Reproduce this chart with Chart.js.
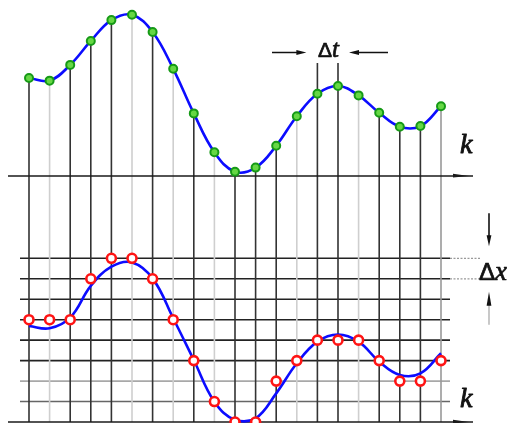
<!DOCTYPE html>
<html>
<head>
<meta charset="utf-8">
<script src="https://cdn.jsdelivr.net/npm/chart.js@4/dist/chart.umd.min.js"></script>
<style>
  html, body { margin: 0; padding: 0; background: #fff; overflow: hidden; }
  canvas { display: block; }
</style>
</head>
<body>
<canvas id="c" width="507" height="423"></canvas>
<script>
// Sample instants k = 0..20
const sampleIndex = [0, 1, 2, 3, 4, 5, 6, 7, 8, 9, 10, 11, 12, 13, 14, 15, 16, 17, 18, 19, 20];
// Sampled signal x(kΔt), in units of the quantisation step Δx
const sampled = [4.79, 4.66, 5.43, 6.60, 7.62, 7.88, 7.04, 5.24, 3.06, 1.16, 0.21, 0.41, 1.48, 2.92, 4.02, 4.40, 3.94, 3.09, 2.41, 2.44, 3.41];
// Continuous signal shown behind the quantised samples
const analog = [4.69, 4.58, 5.10, 6.65, 7.59, 7.80, 7.02, 5.07, 3.03, 0.99, 0.10, 0.18, 1.40, 2.87, 3.93, 4.28, 3.93, 2.95, 2.30, 2.38, 3.36];
// Quantised levels
const quantized = [5, 5, 5, 7, 8, 8, 7, 5, 3, 1, 0, 0, 2, 3, 4, 4, 4, 3, 2, 2, 3];
// Quantisation levels drawn as horizontal lines
const levelLines = [1, 2, 3, 4, 5, 6, 7, 8];

const toPoints = vals => sampleIndex.map((k, i) => ({ x: k, y: vals[i] }));

function arrow(ctx, x1, y1, x2, y2, len, half) {
  const a = Math.atan2(y2 - y1, x2 - x1);
  ctx.beginPath();
  ctx.moveTo(x1, y1);
  ctx.lineTo(x2 - Math.cos(a) * len * 0.6, y2 - Math.sin(a) * len * 0.6);
  ctx.stroke();
  ctx.beginPath();
  ctx.moveTo(x2, y2);
  ctx.lineTo(x2 - Math.cos(a) * len - Math.sin(a) * half, y2 - Math.sin(a) * len + Math.cos(a) * half);
  ctx.lineTo(x2 - Math.cos(a) * len + Math.sin(a) * half, y2 - Math.sin(a) * len - Math.cos(a) * half);
  ctx.closePath();
  ctx.fill();
}

// draws a filled glyph with a thin outline to give it a heavier weight
function heavyText(ctx, str, x, y, w) {
  ctx.lineWidth = w;
  ctx.lineJoin = 'round';
  ctx.strokeText(str, x, y);
  ctx.fillText(str, x, y);
  return ctx.measureText(str).width;
}

const lightStems = new Set([1, 5, 7, 9, 13, 16]);

const sketch = {
  id: 'sketch',
  beforeDatasetsDraw(chart) {
    const { ctx, scales: { x, yTop, yBot } } = chart;
    const px = k => x.getPixelForValue(k);
    const x0 = px(sampleIndex[0]);
    const xN = px(sampleIndex[sampleIndex.length - 1]);
    const base = yBot.getPixelForValue(0);
    const topBase = yTop.getPixelForValue(0);
    ctx.save();

    // quantisation level lines
    levelLines.forEach(l => {
      const y = yBot.getPixelForValue(l);
      ctx.strokeStyle = l === 2 ? '#a8a8a8' : (l === 1 ? '#666' : '#222');
      ctx.lineWidth = 1.6;
      ctx.beginPath();
      ctx.moveTo(x0 - 9, y);
      ctx.lineTo(xN + 9, y);
      ctx.stroke();
    });

    // dotted guides for Δx
    ctx.strokeStyle = '#999';
    ctx.lineWidth = 1.2;
    ctx.setLineDash([2, 1.5]);
    [8, 7].forEach(l => {
      const y = yBot.getPixelForValue(l);
      ctx.beginPath();
      ctx.moveTo(xN + 9, y);
      ctx.lineTo(xN + 39, y);
      ctx.stroke();
    });
    ctx.setLineDash([]);

    // stems from each sample down through the quantised plot
    sampleIndex.forEach((k, i) => {
      const xp = px(k);
      let y1 = yTop.getPixelForValue(sampled[i]);
      if (k === 14 || k === 15) y1 = 63;
      ctx.strokeStyle = k === 20 ? '#999' : (lightStems.has(k) ? '#cfcfcf' : '#333');
      ctx.lineWidth = 1.6;
      ctx.beginPath();
      ctx.moveTo(xp, y1);
      ctx.lineTo(xp, base);
      ctx.stroke();
    });

    // time axes with arrows
    ctx.strokeStyle = '#1a1a1a';
    ctx.fillStyle = '#1a1a1a';
    ctx.lineWidth = 1.6;
    [topBase, base].forEach(y => {
      ctx.beginPath();
      ctx.moveTo(x0 - 21, y);
      ctx.lineTo(xN + 32, y);
      ctx.stroke();
      ctx.beginPath();
      ctx.moveTo(xN + 28, y);
      ctx.lineTo(xN + 12, y - 2.2);
      ctx.lineTo(xN + 12, y + 1.5);
      ctx.closePath();
      ctx.fill();
    });
    ctx.restore();
  },
  afterDraw(chart) {
    const { ctx, scales: { x, yBot } } = chart;
    const px = k => x.getPixelForValue(k);
    ctx.save();
    ctx.fillStyle = '#111';
    ctx.strokeStyle = '#111';
    ctx.textBaseline = 'alphabetic';

    // k labels
    ctx.font = 'italic 28px "Liberation Serif", "DejaVu Serif", serif';
    heavyText(ctx, 'k', 460, 153, 0.9);
    heavyText(ctx, 'k', 460, 407, 0.9);

    // Δt marker
    const ay = 52.5;
    ctx.lineWidth = 1.5;
    arrow(ctx, 272, ay, px(14) - 11, ay, 10, 2.6);
    arrow(ctx, 388, ay, 349, ay, 10, 2.6);
    ctx.font = '21px "Liberation Sans", "DejaVu Sans", sans-serif';
    const dw = heavyText(ctx, 'Δ', 318, 56.5, 0.7);
    ctx.font = 'italic 25px "Liberation Serif", "DejaVu Serif", serif';
    heavyText(ctx, 't', 318 + dw, 56.5, 0.7);

    // Δx marker
    const ax = 489;
    const y8 = yBot.getPixelForValue(8);
    const y7 = yBot.getPixelForValue(7);
    ctx.lineWidth = 1.6;
    arrow(ctx, ax, y8 - 45, ax, y8 - 12, 11, 2.4);
    ctx.strokeStyle = '#bbb';
    ctx.beginPath();
    ctx.moveTo(ax, y7 + 46);
    ctx.lineTo(ax, y7 + 22);
    ctx.stroke();
    ctx.fillStyle = '#111';
    ctx.strokeStyle = '#111';
    ctx.beginPath();
    ctx.moveTo(ax, y7 + 13);
    ctx.lineTo(ax - 2.4, y7 + 27);
    ctx.lineTo(ax + 2.4, y7 + 27);
    ctx.closePath();
    ctx.fill();
    ctx.font = '24px "Liberation Sans", "DejaVu Sans", sans-serif';
    const dw2 = heavyText(ctx, 'Δ', 479, 280, 0.7);
    ctx.font = 'italic 27px "Liberation Serif", "DejaVu Serif", serif';
    heavyText(ctx, 'x', 479 + dw2, 280, 0.7);
    ctx.restore();
  }
};

new Chart(document.getElementById('c'), {
  type: 'line',
  data: {
    datasets: [
      {
        label: 'sampled',
        data: toPoints(sampled),
        yAxisID: 'yTop',
        borderColor: '#0c0cff',
        borderWidth: 2.6,
        tension: 0.4,
        pointRadius: 4,
        pointBorderWidth: 2,
        pointBackgroundColor: '#66d844',
        pointBorderColor: '#169a16',
        clip: false,
        order: 0
      },
      {
        label: 'analog',
        data: toPoints(analog),
        yAxisID: 'yBot',
        borderColor: '#0c0cff',
        borderWidth: 2.6,
        tension: 0.4,
        pointRadius: 0,
        clip: false,
        order: 2
      },
      {
        label: 'quantized',
        data: toPoints(quantized),
        yAxisID: 'yBot',
        showLine: false,
        pointRadius: 4.5,
        pointBorderWidth: 2.6,
        pointBorderColor: '#ff1414',
        pointBackgroundColor: '#ffffff',
        clip: false,
        order: 1
      }
    ]
  },
  options: {
    responsive: false,
    animation: false,
    devicePixelRatio: 1,
    events: [],
    layout: { autoPadding: false, padding: { left: 29, right: 66, top: 0, bottom: 1 } },
    scales: {
      x: { type: 'linear', min: 0, max: 20, display: false },
      yTop: { type: 'linear', position: 'left', min: -12.023, max: 8.602, display: false },
      yBot: { type: 'linear', position: 'left', min: 0, max: 20.625, display: false }
    },
    plugins: { legend: { display: false }, tooltip: { enabled: false } }
  },
  plugins: [sketch]
});
</script>
</body>
</html>
